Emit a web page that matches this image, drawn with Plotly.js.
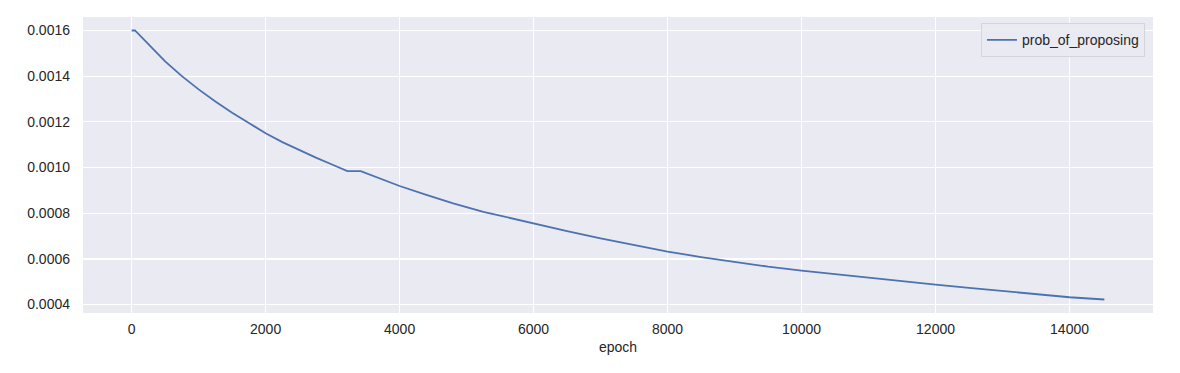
<!DOCTYPE html>
<html>
<head>
<meta charset="utf-8">
<script src="https://cdn.plot.ly/plotly-3.0.1.min.js"></script>
<style>html,body{margin:0;padding:0;background:#fff;}#chart{width:1180px;height:373px;}</style>
</head>
<body>
<div id="chart"></div>
<script>
const seriesName = "prob_of_proposing";
const epochs = [0, 50, 250, 500, 750, 1000, 1250, 1500, 1750, 2000, 2250, 2500, 2750, 3000, 3220, 3420, 3750, 4000, 4400, 4800, 5250, 5600, 6000, 6500, 7000, 7500, 8000, 8500, 9000, 9500, 10000, 10500, 11000, 11500, 12000, 12500, 13000, 13500, 14000, 14520];
const probOfProposing = [0.00160, 0.00160, 0.001540, 0.001465, 0.001400, 0.001342, 0.001289, 0.001240, 0.001195, 0.001150, 0.001111, 0.001076, 0.001043, 0.001012, 0.000984, 0.000984, 0.000948, 0.000919, 0.000880, 0.000843, 0.000806, 0.000782, 0.000755, 0.000722, 0.000690, 0.000660, 0.000632, 0.000608, 0.000586, 0.000566, 0.000549, 0.000533, 0.000517, 0.000502, 0.000487, 0.000473, 0.000459, 0.000445, 0.000432, 0.000422];
const xTicks = [0, 2000, 4000, 6000, 8000, 10000, 12000, 14000];
const yTicks = [0.0004, 0.0006, 0.0008, 0.0010, 0.0012, 0.0014, 0.0016];
const yTickText = ["0.0004", "0.0006", "0.0008", "0.0010", "0.0012", "0.0014", "0.0016"];

const font = {family: "Liberation Sans, Arial, sans-serif", size: 14, color: "#262626"};

Plotly.newPlot("chart", [{
  x: epochs, y: probOfProposing, type: "scatter", mode: "lines", name: seriesName,
  line: {color: "#4C72B0", width: 1.8}
}], {
  width: 1180, height: 373,
  margin: {l: 83, r: 27, t: 17, b: 60},
  paper_bgcolor: "#ffffff", plot_bgcolor: "#EAEAF2",
  font: font,
  showlegend: true,
  legend: {x: 0.9925, y: 0.979, xanchor: "right", yanchor: "top", bgcolor: "rgba(234,234,242,0.9)", bordercolor: "#D4D4DC", borderwidth: 1, font: {family: font.family, size: 14, color: "#262626"}},
  xaxis: {
    range: [-726, 15246], tickvals: xTicks, ticktext: xTicks.map(String),
    showgrid: true, gridcolor: "#ffffff", gridwidth: 1.3, zeroline: false, showline: false,
    ticks: "", ticklabelstandoff: 6,
    title: {text: "epoch", font: font, standoff: 6}
  },
  yaxis: {
    range: [0.000363, 0.001659], tickvals: yTicks, ticktext: yTickText,
    showgrid: true, gridcolor: "#ffffff", gridwidth: 1.3, zeroline: false, showline: false,
    ticks: "", ticklabelstandoff: 12
  }
}, {staticPlot: true});
</script>
</body>
</html>
